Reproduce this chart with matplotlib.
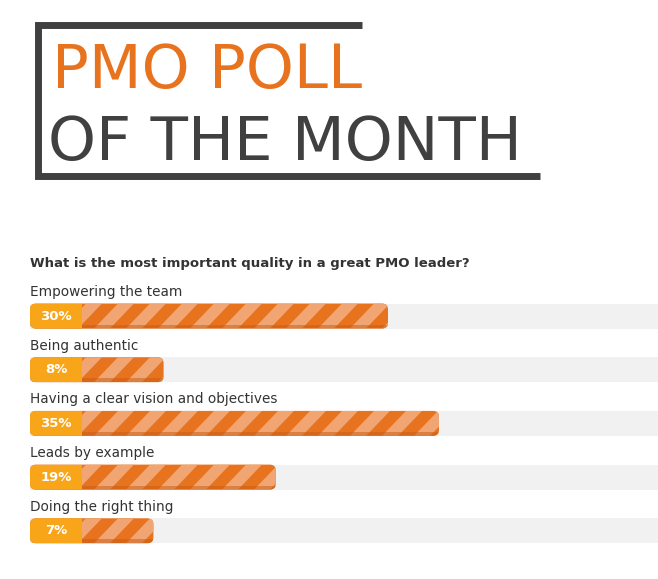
import matplotlib.pyplot as plt
from matplotlib.patches import FancyBboxPatch, Rectangle, Polygon

options = ["Empowering the team", "Being authentic", "Having a clear vision and objectives",
           "Leads by example", "Doing the right thing"]
percents = [30, 8, 35, 19, 7]
question = "What is the most important quality in a great PMO leader?"

orange = "#e8731f"
light = "#f0a573"
yellow = "#f9a51a"
dark = "#404040"

fig = plt.figure(figsize=(6.58, 5.79), dpi=100)
ax = fig.add_axes([0, 0, 1, 1])
ax.set_xlim(0, 658)
ax.set_ylim(579, 0)
ax.axis("off")

# title frame
ax.plot([362, 38, 38, 540], [25, 25, 176, 176], color=dark, lw=5, solid_capstyle="butt", solid_joinstyle="miter")
ax.text(52, 88, "PMO POLL", color=orange, fontsize=44, family="DejaVu Sans", va="baseline")
ax.text(48, 160, "OF THE MONTH", color=dark, fontsize=44, family="DejaVu Sans", va="baseline")

ax.text(30, 263, question, fontsize=9.5, fontweight="bold", color="#333333", va="center", family="DejaVu Sans")

x0, box_w, h, scale = 30, 52, 25, 10.2
for i, (lab, p) in enumerate(zip(options, percents)):
    yc = 316 + i * 53.7
    ax.text(30, yc - 24, lab, fontsize=9.8, color="#333333", va="center", family="DejaVu Sans")
    ax.add_patch(Rectangle((x0, yc - h / 2), 658 - x0, h, color="#f1f1f1", lw=0))
    right = x0 + box_w + p * scale
    bar = FancyBboxPatch((x0, yc - h / 2), right - x0, h, boxstyle="round,pad=0,rounding_size=6",
                         fc=orange, ec="none")
    ax.add_patch(bar)
    # diagonal stripes clipped to the bar
    s = x0 + box_w - 20
    while s < right + 20:
        st = Polygon([(s, yc + h / 2), (s + 16, yc + h / 2), (s + 16 + 24, yc - h / 2), (s + 24, yc - h / 2)],
                     fc=light, ec="none")
        ax.add_patch(st)
        st.set_clip_path(bar)
        s += 32
    shade = Rectangle((x0, yc + h / 2 - 4), right - x0, 4, fc="#c85a12", ec="none", alpha=0.5)
    ax.add_patch(shade)
    shade.set_clip_path(bar)
    box = Rectangle((x0, yc - h / 2), box_w, h, fc=yellow, ec="none")
    ax.add_patch(box)
    box.set_clip_path(bar)
    ax.text(x0 + box_w / 2, yc, f"{p}%", color="white", fontsize=9.5, fontweight="bold",
            ha="center", va="center", family="DejaVu Sans")

fig.savefig("out.png", dpi=100)
